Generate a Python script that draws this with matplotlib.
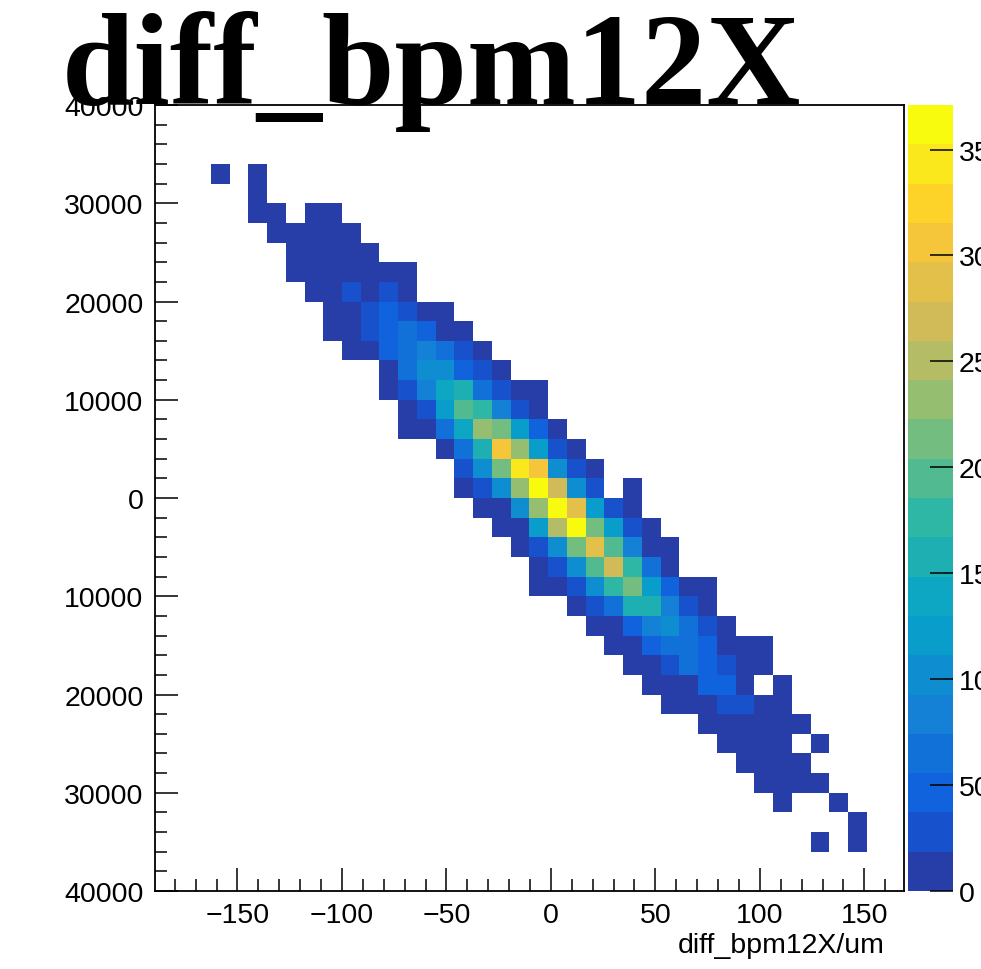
import numpy as np
import matplotlib
matplotlib.use('Agg')
import matplotlib.pyplot as plt
from matplotlib.colors import ListedColormap, LinearSegmentedColormap, Normalize
from matplotlib.ticker import MultipleLocator

plt.rcParams['font.family'] = ['Liberation Sans', 'DejaVu Sans']

# histogram binning (40 x 40)
x_min, x_max = -189.7, 169.2
y_min, y_max = -40000, 40000
n_bins = 40

# bin contents, one list per filled row (row 0 = top of the plot)
rows = list(range(3, 38))
first_col = [3, 5, 5, 6, 7, 7, 8, 9, 9, 10, 12, 12, 13, 13, 15, 16, 16, 17,
             18, 19, 20, 20, 22, 23, 24, 25, 26, 27, 29, 30, 31, 32, 33, 37, 35]
counts = [
    [6, 0, 4],
    [3],
    [5, 8, 0, 4, 7],
    [9, 12, 14, 10, 4],
    [8, 15, 16, 11, 6],
    [5, 14, 17, 13, 16, 9, 3],
    [7, 16, 24, 17, 22, 10],
    [6, 15, 27, 44, 31, 14, 8],
    [4, 16, 30, 47, 66, 48, 17, 9],
    [5, 12, 45, 70, 88, 67, 29, 10],
    [10, 64, 104, 108, 50, 26, 8],
    [7, 33, 86, 140, 160, 71, 28, 14, 5],
    [12, 35, 122, 196, 180, 85, 30, 9],
    [4, 15, 72, 143, 234, 218, 125, 49, 11],
    [13, 69, 158, 310, 236, 121, 33, 8],
    [25, 103, 215, 345, 305, 101, 31, 12],
    [14, 29, 105, 238, 366, 272, 99, 26, 0, 6],
    [9, 16, 100, 232, 371, 290, 120, 34, 11],
    [8, 17, 118, 255, 363, 214, 124, 30, 7],
    [15, 32, 98, 212, 285, 198, 87, 16, 5],
    [13, 36, 106, 193, 268, 178, 68, 17],
    [6, 14, 27, 103, 174, 216, 119, 45, 12, 4],
    [11, 28, 70, 156, 162, 84, 33, 9],
    [6, 17, 52, 89, 100, 70, 24, 12],
    [5, 15, 48, 69, 72, 51, 16, 10, 4],
    [7, 14, 31, 66, 46, 28, 13, 6],
    [4, 10, 17, 43, 47, 11, 0, 3],
    [6, 12, 16, 27, 25, 13, 5],
    [9, 14, 17, 12, 8, 4],
    [5, 11, 15, 9, 0, 3],
    [8, 13, 10, 6],
    [4, 9, 7, 5],
    [6, 0, 0, 2],
    [3],
    [2, 0, 4],
]

x_ticks = [-150, -100, -50, 0, 50, 100, 150]
y_ticks = [-40000, -30000, -20000, -10000, 0, 10000, 20000, 30000, 40000]
y_tick_labels = ['40000', '30000', '20000', '10000', '0', '10000', '20000', '30000', '40000']
z_ticks = [0, 50, 100, 150, 200, 250, 300, 350]

# fill the 2D histogram
h = np.zeros((n_bins, n_bins))
for r, c0, vals in zip(rows, first_col, counts):
    h[n_bins - 1 - r, c0:c0 + len(vals)] = vals
h = np.ma.masked_equal(h, 0)
x_edges = np.linspace(x_min, x_max, n_bins + 1)
y_edges = np.linspace(y_min, y_max, n_bins + 1)

# ROOT kBird palette, 20 contour levels
stops = [0.0, 0.125, 0.25, 0.375, 0.5, 0.625, 0.75, 0.875, 1.0]
red = [0.2082, 0.0592, 0.0780, 0.0232, 0.1802, 0.5301, 0.8186, 0.9956, 0.9764]
green = [0.1664, 0.3599, 0.5041, 0.6419, 0.7178, 0.7492, 0.7328, 0.7862, 0.9832]
blue = [0.5293, 0.8684, 0.8385, 0.7914, 0.6425, 0.4662, 0.3499, 0.1968, 0.0539]
bird = LinearSegmentedColormap.from_list('bird', list(zip(stops, zip(red, green, blue))), N=255)
n_cont = 20
cmap = ListedColormap([bird(int((i + 0.99) * 255 / n_cont)) for i in range(n_cont)])
norm = Normalize(vmin=0, vmax=h.max())

fig = plt.figure(figsize=(9.81, 9.70), dpi=100)
ax = fig.add_axes([0.1575, 0.0804, 0.7645, 0.8103])
mesh = ax.pcolormesh(x_edges, y_edges, h, cmap=cmap, norm=norm)
ax.set_xlim(x_min, x_max)
ax.set_ylim(y_min, y_max)

ax.set_xticks(x_ticks)
ax.xaxis.set_minor_locator(MultipleLocator(10))
ax.set_yticks(y_ticks)
ax.set_yticklabels(y_tick_labels)
ax.yaxis.set_minor_locator(MultipleLocator(2000))
ax.tick_params(which='both', direction='in', top=False, right=False, width=1.1)
ax.tick_params(which='major', length=16.5, labelsize=20.5, pad=8)
ax.tick_params(which='minor', length=8.3)
for s in ax.spines.values():
    s.set_linewidth(1.3)

ax.set_xlabel('diff_bpm12X/um', fontsize=20.5, ha='right', va='top')
ax.xaxis.set_label_coords((885 - 154.5) / 750, -(933 - 892) / 786)

# palette
cax = fig.add_axes([0.9256, 0.0804, 0.0459, 0.8103])
cb = fig.colorbar(mesh, cax=cax, ticks=z_ticks)
cb.outline.set_visible(False)
cax.tick_params(direction='in', length=16.5, width=1.1, labelsize=20.5, pad=4)
cax.minorticks_off()

fig.text(62 / 981, (970 - 104) / 970, 'diff_bpm12X', fontsize=94,
         family='Liberation Serif', weight='bold', ha='left', va='baseline', zorder=10)

fig.savefig('out.png', dpi=100)
